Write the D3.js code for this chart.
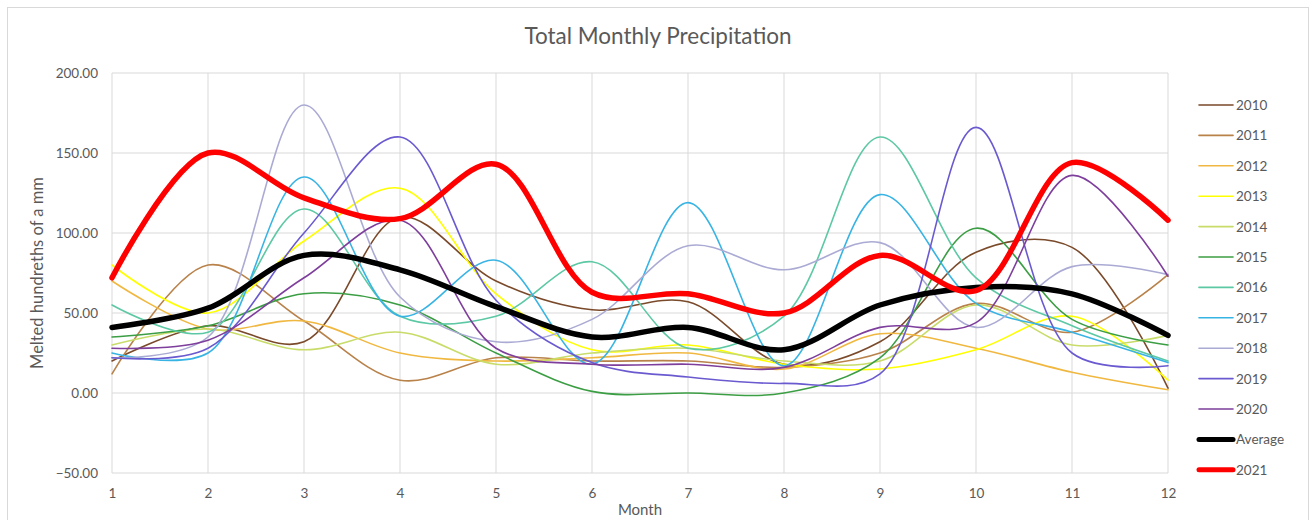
<!DOCTYPE html>
<html><head><meta charset="utf-8">
<script src="https://cdn.jsdelivr.net/npm/d3@7"></script>
<style>
html,body{margin:0;padding:0;background:#fff;}
svg text{font-family:Lato,"Open Sans","Liberation Sans",sans-serif;fill:#595959;}
</style></head>
<body>
<svg id="chart" width="1316" height="520"></svg>
<script>
const months = [1,2,3,4,5,6,7,8,9,10,11,12];
const yTicks = [-50,0,50,100,150,200];
const seriesNames = ["2010","2011","2012","2013","2014","2015","2016","2017","2018","2019","2020","Average","2021"];
const seriesColors = ["#7a4a2a","#b8824a","#f0b840","#ffff00","#c8dc6a","#3c9e44","#5cc8a4","#38b4e4","#aaaad4","#6a5ad0","#7e3e9c","#000000","#ff0000"];
const s2010 = [20, 42, 32, 110, 70, 52, 57, 18, 32, 88, 91, 3];
const s2011 = [12, 80, 45, 8, 22, 20, 20, 16, 25, 56, 38, 74];
const s2012 = [70, 40, 45, 25, 20, 22, 25, 15, 37, 28, 13, 2];
const s2013 = [80, 50, 95, 128, 62, 27, 30, 18, 15, 27, 48, 8];
const s2014 = [30, 40, 27, 38, 18, 25, 28, 20, 20, 55, 30, 36];
const s2015 = [35, 42, 62, 55, 25, 1, 0, 0, 22, 103, 46, 30];
const s2016 = [55, 38, 115, 48, 48, 82, 28, 48, 160, 72, 42, 20];
const s2017 = [25, 25, 135, 48, 83, 18, 119, 17, 124, 56, 38, 19];
const s2018 = [22, 35, 180, 60, 32, 46, 92, 77, 94, 41, 79, 74];
const s2019 = [22, 28, 100, 160, 58, 19, 10, 6, 12, 166, 25, 17];
const s2020 = [28, 33, 72, 108, 28, 18, 18, 16, 41, 44, 136, 73];
const sAverage = [41, 53, 86, 77, 54, 35, 41, 27, 55, 66, 62, 36];
const s2021 = [72, 150, 122, 109, 143, 63, 62, 50, 86, 64, 144, 108];
const seriesValues = [s2010,s2011,s2012,s2013,s2014,s2015,s2016,s2017,s2018,s2019,s2020,sAverage,s2021];
const seriesWidths = [1.6,1.6,1.6,1.6,1.6,1.6,1.6,1.6,1.6,1.6,1.6,5.5,5.5];

const svg = d3.select("#chart");
svg.append("rect").attr("x",7.5).attr("y",7.5).attr("width",1301).attr("height",520).attr("fill","#fff").attr("stroke","#d9d9d9");

const x = d3.scaleLinear().domain([1,12]).range([112,1168]);
const y = d3.scaleLinear().domain([-50,200]).range([473,73]);

// grid
svg.append("g").selectAll("line").data(yTicks).join("line")
  .attr("x1",112).attr("x2",1168).attr("y1",d=>y(d)).attr("y2",d=>y(d))
  .attr("stroke","#d9d9d9").attr("stroke-width",1);
svg.append("g").selectAll("line").data(months).join("line")
  .attr("x1",d=>x(d)).attr("x2",d=>x(d)).attr("y1",73).attr("y2",473)
  .attr("stroke","#d9d9d9").attr("stroke-width",1);

// axes labels
const yAxis = d3.axisLeft(y).tickValues(yTicks).tickFormat(d3.format(".2f")).tickSize(0).tickPadding(14);
const gy = svg.append("g").attr("transform","translate(112,0)").call(yAxis);
gy.select(".domain").remove();
gy.selectAll("text").attr("font-size",13.5).style("fill","#595959");
const xAxis = d3.axisBottom(x).tickValues(months).tickFormat(d3.format("d")).tickSize(0).tickPadding(15);
const gx = svg.append("g").attr("transform","translate(0,473)").call(xAxis);
gx.select(".domain").remove();
gx.selectAll("text").attr("font-size",13.5).style("fill","#595959");

svg.append("text").attr("x",658).attr("y",44).attr("text-anchor","middle").attr("font-size",22.5).text("Total Monthly Precipitation");
svg.append("text").attr("transform","translate(43,273) rotate(-90)").attr("text-anchor","middle").attr("font-size",16.5).text("Melted hundreths of a mm");
svg.append("text").attr("x",640).attr("y",515).attr("text-anchor","middle").attr("font-size",15).text("Month");

// lines
const line = d3.line().x((d,i)=>x(months[i])).y(d=>y(d)).curve(d3.curveCatmullRom.alpha(0.5));
const lg = svg.append("g");
seriesNames.forEach((name,k)=>{
  lg.append("path").datum(seriesValues[k]).attr("d",line).attr("fill","none")
    .attr("stroke",seriesColors[k]).attr("stroke-width",seriesWidths[k])
    .attr("stroke-linejoin","round").attr("stroke-linecap","round");
});

// legend
const leg = svg.append("g");
seriesNames.forEach((name,k)=>{
  const ly = 105 + k*30.4;
  leg.append("line").attr("x1",1199).attr("x2",1233).attr("y1",ly).attr("y2",ly)
    .attr("stroke",seriesColors[k]).attr("stroke-width",seriesWidths[k]>2?5:1.6).attr("stroke-linecap","round");
  leg.append("text").attr("x",1236).attr("y",ly+5).attr("font-size",13.5).text(name);
});
</script>
</body></html>
